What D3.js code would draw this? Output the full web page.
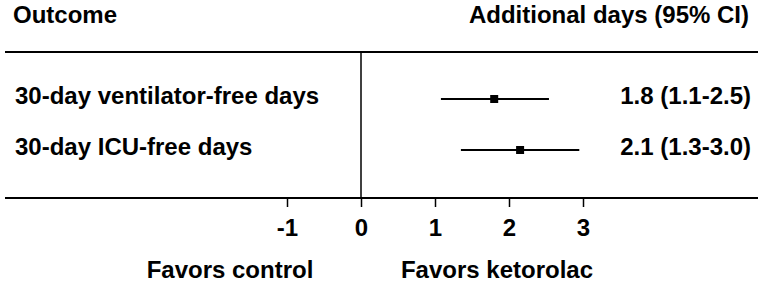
<!DOCTYPE html>
<html lang="en">
<head>
    <meta charset="UTF-8">
    <script src="https://d3js.org/d3.v7.min.js"></script>
    <title>Forest plot</title>
    <style>
        body { margin: 0; background: white; }
        text { font-family: "Liberation Sans", Arial, sans-serif; font-weight: bold; fill: black; }
    </style>
</head>
<body>
<svg id="chart" width="764" height="284"></svg>

<script>
// data
const outcomes = ["30-day ventilator-free days", "30-day ICU-free days"];
const estimates = [1.8, 2.15];
const lower = [1.08, 1.35];
const upper = [2.54, 2.95];
const ciLabels = ["1.8 (1.1-2.5)", "2.1 (1.3-3.0)"];
const tickValues = [-1, 0, 1, 2, 3];

const svg = d3.select("svg#chart");

const topY = 52, bottomY = 198;

const x = d3.scaleLinear().domain([-1, 3]).range([287, 583]);
const y = d3.scalePoint().domain(outcomes).range([99, 150]);

// headers
svg.append("text").attr("x", 13).attr("y", 23).attr("font-size", 24).text("Outcome");
svg.append("text").attr("x", 749).attr("y", 23).attr("font-size", 24)
    .attr("text-anchor", "end").text("Additional days (95% CI)");

// frame lines
svg.append("line").attr("x1", 5).attr("x2", 758).attr("y1", topY).attr("y2", topY)
    .attr("stroke", "black").attr("stroke-width", 2);
svg.append("line").attr("x1", 5).attr("x2", 758).attr("y1", bottomY).attr("y2", bottomY)
    .attr("stroke", "black").attr("stroke-width", 2);
svg.append("line").attr("x1", x(0)).attr("x2", x(0)).attr("y1", topY).attr("y2", bottomY)
    .attr("stroke", "black").attr("stroke-width", 1.5);

// axis (plain hyphen for negatives)
const axis = svg.append("g").attr("transform", `translate(0,${bottomY})`)
    .call(d3.axisBottom(x).tickValues(tickValues).tickSize(9).tickPadding(12).tickFormat(d => String(d)));
axis.select(".domain").remove();
axis.selectAll(".tick line").attr("stroke", "black").attr("stroke-width", 1.5);
axis.selectAll(".tick text").attr("font-size", 24).attr("font-family", null);

// rows
const rows = svg.append("g");
outcomes.forEach((o, i) => {
    rows.append("text").attr("x", 15).attr("y", y(o) + 5).attr("font-size", 24).text(o);
    rows.append("line").attr("x1", x(lower[i])).attr("x2", x(upper[i]))
        .attr("y1", y(o)).attr("y2", y(o)).attr("stroke", "black").attr("stroke-width", 2);
    rows.append("rect").attr("x", x(estimates[i]) - 4).attr("y", y(o) - 4)
        .attr("width", 8).attr("height", 8).attr("fill", "black");
    rows.append("text").attr("x", 751).attr("y", y(o) + 5).attr("font-size", 24)
        .attr("text-anchor", "end").text(ciLabels[i]);
});

// favors labels
svg.append("text").attr("x", 230).attr("y", 278).attr("font-size", 24)
    .attr("text-anchor", "middle").text("Favors control");
svg.append("text").attr("x", 497).attr("y", 278).attr("font-size", 24)
    .attr("text-anchor", "middle").text("Favors ketorolac");
</script>
</body>
</html>
